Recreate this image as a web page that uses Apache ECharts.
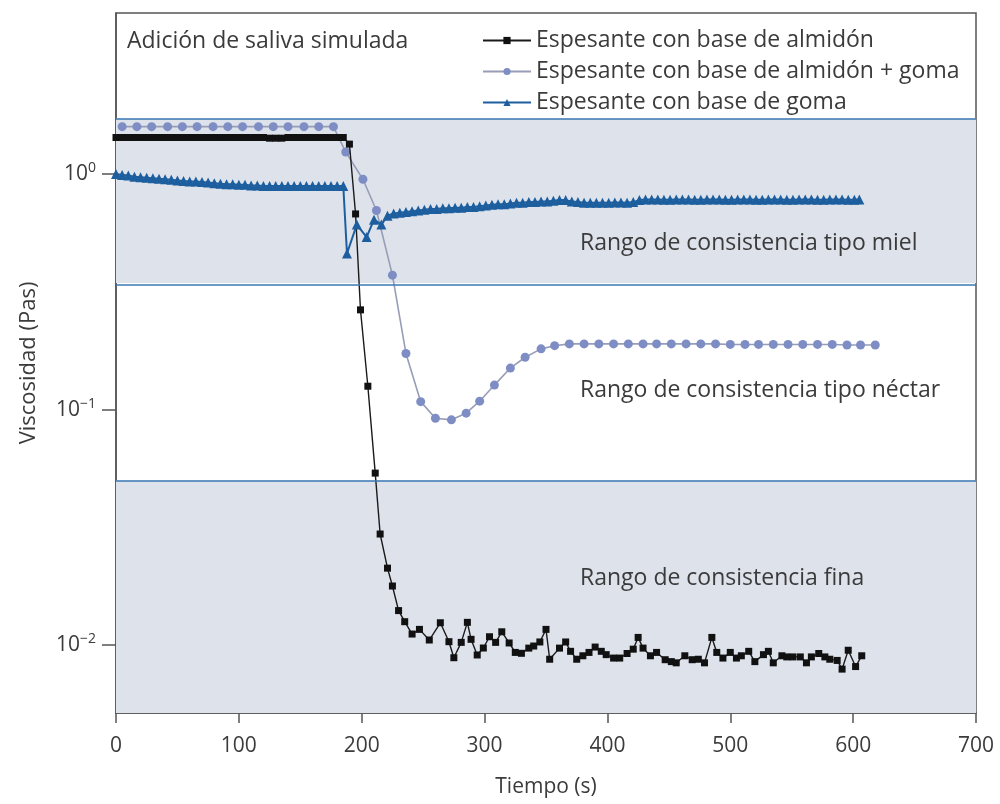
<!DOCTYPE html>
<html>
<head>
<meta charset="utf-8">
<script src="https://cdn.jsdelivr.net/npm/echarts@6/dist/echarts.min.js"></script>
<style>
html,body{margin:0;padding:0;background:#fff;}
#chart{width:1000px;height:804px;}
</style>
</head>
<body>
<div id="chart"></div>
<script>
// ---- data ----
const seriesNames = ['Espesante con base de almidón', 'Espesante con base de almidón + goma', 'Espesante con base de goma'];

const almidonT = [0,5,10,15,20,25,30,35,40,45,50,55,60,65,70,75,80,85,90,95,100,105,110,115,120,125,130,135,140,145,150,155,160,165,170,175,180,185,
  190,195,199,205,211,215,221,225,230,235,241,247,255,264,271,275,281,286,289,294,299,304,309,314,320,325,330,336,340,345,350,353,361,366,370,375,380,385,390,395,399,405,410,416,421,425,429,435,440,447,452,456,463,469,474,479,485,489,494,500,505,509,515,520,527,531,535,542,546,551,557,562,566,572,577,581,587,591,596,602,607];
const almidonV = [1.43,1.43,1.43,1.43,1.43,1.43,1.43,1.43,1.43,1.43,1.43,1.43,1.43,1.43,1.43,1.43,1.43,1.43,1.43,1.43,1.43,1.43,1.43,1.43,1.43,1.42,1.42,1.42,1.43,1.43,1.43,1.43,1.43,1.43,1.43,1.43,1.43,1.43,
  1.34,0.677,0.265,0.1256,0.0537,0.0296,0.0212,0.0178,0.0140,0.01256,0.01113,0.01165,0.0105,0.01243,0.01033,0.00883,0.01026,0.01248,0.01057,0.00907,0.00971,0.01084,0.01026,0.01138,0.0102,0.0093,0.00922,0.0097,0.0099,0.0103,0.01165,0.0087,0.0097,0.0103,0.0094,0.0087,0.0090,0.0093,0.0098,0.0094,0.0091,0.0088,0.0088,0.0092,0.0096,0.01077,0.0097,0.0090,0.0093,0.00866,0.0085,0.0084,0.0090,0.00866,0.0087,0.0084,0.01077,0.0093,0.0088,0.0093,0.0088,0.0090,0.0094,0.0085,0.0091,0.0094,0.0084,0.0090,0.0089,0.0089,0.0089,0.0084,0.0089,0.0092,0.0089,0.0087,0.0086,0.0079,0.0095,0.0081,0.0090];

const mixtaT = [5,17,29,42,54,66,79,91,103,116,128,140,153,165,177,187,201,212,225,236,248,260,273,285,296,308,321,333,346,357,369,381,393,405,417,429,440,452,464,476,488,500,512,523,535,547,559,571,583,595,606,618];
const mixtaV = [1.59,1.59,1.59,1.59,1.59,1.59,1.59,1.59,1.59,1.59,1.59,1.59,1.59,1.59,1.59,1.24,0.95,0.70,0.372,0.173,0.108,0.0918,0.0904,0.0965,0.1085,0.127,0.150,0.1667,0.181,0.1867,0.190,0.190,0.190,0.190,0.190,0.190,0.190,0.190,0.190,0.190,0.190,0.189,0.189,0.189,0.189,0.189,0.189,0.189,0.189,0.188,0.188,0.188];

const gomaT = [0,5,10,15,20,25,30,35,40,45,50,55,60,65,70,75,80,85,90,95,100,105,110,115,120,125,130,135,140,145,150,155,160,165,170,175,180,185,
  188,196,204,210,216,221,226,231,236,241,246,251,256,261,266,271,276,281,286,291,296,301,306,311,316,321,326,331,336,341,346,351,356,361,366,371,376,381,386,391,396,401,406,411,416,421,426,431,436,441,446,451,456,461,466,471,476,481,486,491,496,501,506,511,516,521,526,531,536,541,546,551,556,561,566,571,576,581,586,591,596,601,605];
const gomaV = [1.00,0.99,0.985,0.975,0.97,0.965,0.96,0.955,0.95,0.945,0.94,0.935,0.93,0.93,0.925,0.92,0.915,0.91,0.905,0.905,0.90,0.90,0.895,0.895,0.89,0.89,0.89,0.89,0.89,0.89,0.89,0.89,0.89,0.89,0.89,0.89,0.89,0.89,
  0.46,0.61,0.54,0.64,0.61,0.665,0.68,0.685,0.69,0.695,0.70,0.705,0.71,0.71,0.715,0.715,0.72,0.72,0.725,0.725,0.73,0.735,0.74,0.745,0.745,0.75,0.755,0.755,0.76,0.76,0.765,0.765,0.77,0.775,0.775,0.765,0.76,0.755,0.755,0.755,0.755,0.755,0.758,0.758,0.755,0.76,0.775,0.78,0.78,0.78,0.778,0.778,0.78,0.78,0.78,0.778,0.778,0.78,0.78,0.78,0.778,0.778,0.78,0.78,0.78,0.778,0.778,0.78,0.78,0.78,0.778,0.778,0.78,0.78,0.78,0.778,0.778,0.78,0.78,0.78,0.778,0.778,0.78];

// consistency range limits (Pa·s)
const rangeLimits = [0.05, 0.345, 1.72];
const rangeLabels = ['Rango de consistencia tipo miel', 'Rango de consistencia tipo néctar', 'Rango de consistencia fina'];
const xTicks = [0, 100, 200, 300, 400, 500, 600, 700];
const yTicks = [0.01, 0.1, 1];
const yMin = 0.005143, yMax = 4.83;

function zip(t, v) { return t.map((x, i) => [x, v[i]]); }

const chart = echarts.init(document.getElementById('chart'), null, {renderer: 'canvas'});
const txt = '#3b3b3b';
const font = '"Open Sans", Lato, sans-serif';

const option = {
  animation: false,
  backgroundColor: '#fff',
  grid: {left: 116, right: 24, top: 13, bottom: 91, show: true, borderColor: '#555', borderWidth: 1.5, backgroundColor: 'transparent', containLabel: false, outerBoundsMode: 'none'},
  legend: {
    orient: 'vertical', left: 477, top: 24, itemWidth: 48, itemHeight: 9, itemGap: 8,
    data: seriesNames,
    textStyle: {fontFamily: font, fontSize: 23, color: txt}
  },
  xAxis: {
    type: 'value', min: 0, max: 700, interval: 100,
    name: 'Tiempo (s)', nameLocation: 'middle', nameGap: 64,
    nameTextStyle: {fontFamily: font, fontSize: 21, color: txt},
    axisLine: {lineStyle: {color: '#555', width: 1.5}},
    axisTick: {show: true, length: 10, lineStyle: {color: '#555', width: 1.5}},
    axisLabel: {fontFamily: font, fontSize: 21, color: txt, margin: 23,
      customValues: xTicks},
    splitLine: {show: false}
  },
  yAxis: {
    type: 'log', logBase: 10, min: yMin, max: yMax,
    name: 'Viscosidad (Pas)', nameLocation: 'middle', nameGap: 76, nameRotate: 90,
    nameTextStyle: {fontFamily: font, fontSize: 22, color: txt},
    axisLine: {show: true, lineStyle: {color: '#555', width: 1.5}},
    axisTick: {show: true, length: 14, lineStyle: {color: '#555', width: 1.5}, customValues: yTicks},
    minorTick: {show: false},
    axisLabel: {
      customValues: yTicks,
      margin: 20,
      formatter: function (v) {
        const l = Math.log10(v);
        const e = Math.round(l);
        if (Math.abs(l - e) > 1e-6) return '';
        return '{b|10}{s|' + (e === 0 ? '0' : '\u2212' + (-e)) + '}';
      },
      rich: {
        b: {fontFamily: font, fontSize: 21, color: txt},
        s: {fontFamily: font, fontSize: 14, color: txt, padding: [0, 0, 12, 0]}
      }
    },
    splitLine: {show: false}
  },
  graphic: [
    {type: 'text', z: 100, left: 127, top: 30, style: {text: 'Adición de saliva simulada', fontFamily: font, fontSize: 23, fill: txt}},
    {type: 'text', z: 100, left: 580, top: 232, style: {text: rangeLabels[0], fontFamily: font, fontSize: 23, fill: txt}},
    {type: 'text', z: 100, left: 580, top: 379, style: {text: rangeLabels[1], fontFamily: font, fontSize: 23, fill: txt}},
    {type: 'text', z: 100, left: 580, top: 567, style: {text: rangeLabels[2], fontFamily: font, fontSize: 23, fill: txt}}
  ],
  series: [
    {
      name: 'bands', type: 'line', data: [], silent: true, z: 0,
      markArea: {
        silent: true,
        itemStyle: {color: '#dde2eb'},
        data: [
          [{yAxis: rangeLimits[1]}, {yAxis: rangeLimits[2]}],
          [{yAxis: yMin}, {yAxis: rangeLimits[0]}]
        ]
      },
      markLine: {
        silent: true, symbol: 'none', label: {show: false},
        lineStyle: {color: '#3a78b5', width: 1.6, type: 'solid'},
        data: rangeLimits.map(v => ({yAxis: v}))
      }
    },
    {
      name: seriesNames[0], type: 'line', data: zip(almidonT, almidonV), z: 4,
      symbol: 'rect', symbolSize: 7, showAllSymbol: true,
      lineStyle: {color: '#1a1a1a', width: 1.4},
      itemStyle: {color: '#111'}
    },
    {
      name: seriesNames[1], type: 'line', data: zip(mixtaT, mixtaV), z: 3,
      symbol: 'circle', symbolSize: 9, showAllSymbol: true,
      lineStyle: {color: '#979db6', width: 1.6},
      itemStyle: {color: '#7e8ec4'}
    },
    {
      name: seriesNames[2], type: 'line', data: zip(gomaT, gomaV), z: 5,
      symbol: 'triangle', symbolSize: 10, showAllSymbol: true,
      lineStyle: {color: '#1d5f9e', width: 2},
      itemStyle: {color: '#1d5f9e'}
    }
  ]
};
chart.setOption(option);
</script>
</body>
</html>
